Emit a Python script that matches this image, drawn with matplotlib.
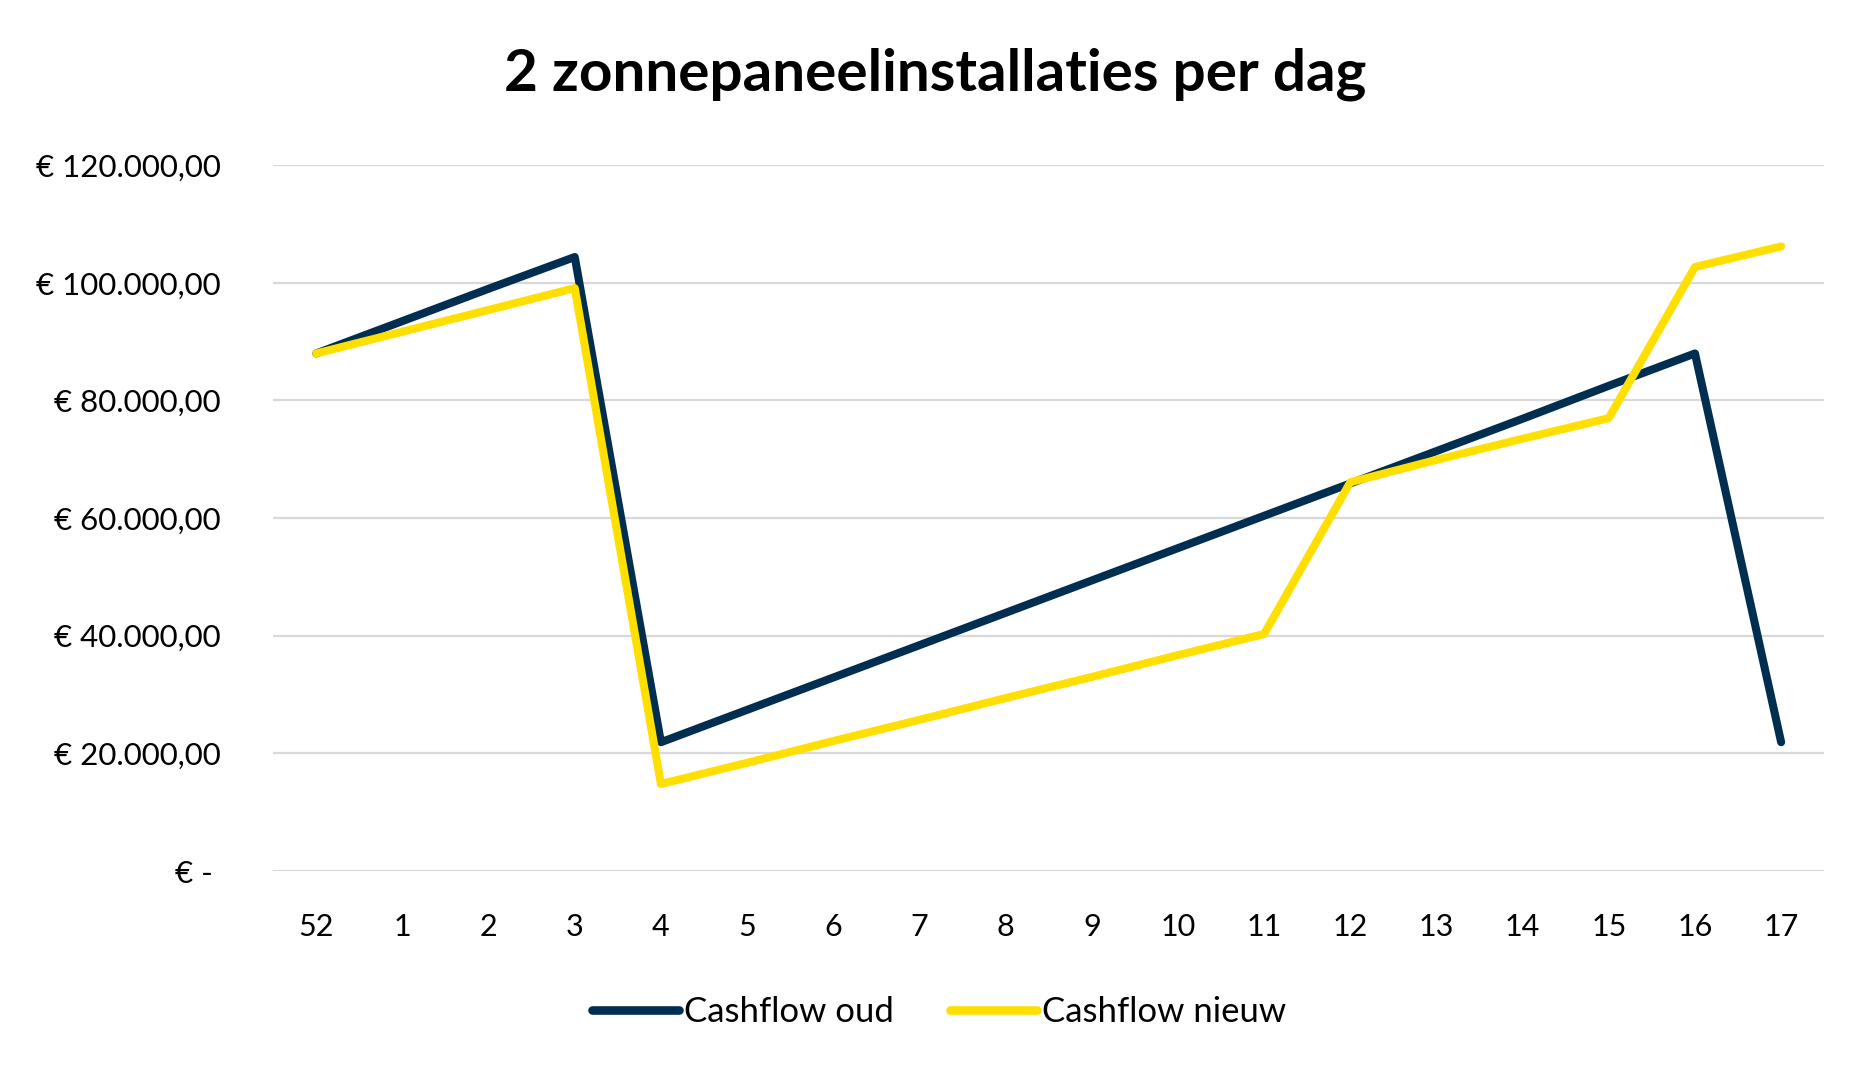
"""Cashflow comparison chart: 2 solar panel installations per day."""

import matplotlib

matplotlib.use("Agg")
import matplotlib.pyplot as plt
import numpy as np

# week numbers on the x axis
weeks = ["52", "1", "2", "3", "4", "5", "6", "7", "8", "9", "10", "11", "12", "13", "14", "15", "16", "17"]

# values (EUR)
cashflow_oud = [
    88000, 93500, 99000, 104400, 21900, 27400, 32900, 38400, 43900,
    49400, 54900, 60400, 65900, 71400, 76900, 82500, 88000, 21900,
]
cashflow_nieuw = [
    88000, 91700, 95400, 99100, 14800, 18400, 22100, 25700, 29400,
    33000, 36700, 40300, 66100, 69900, 73500, 77000, 102700, 106200,
]

y_ticks = [0, 20000, 40000, 60000, 80000, 100000, 120000]
y_tick_labels = ["€ - ", "€ 20.000,00", "€ 40.000,00", "€ 60.000,00",
                 "€ 80.000,00", "€ 100.000,00", "€ 120.000,00"]

NAVY = "#002e51"
YELLOW = "#ffdf00"
GRID = "#d9d9d9"
FONT = ["Lato", "DejaVu Sans"]


def main() -> None:
    plt.rcParams["font.family"] = FONT

    fig = plt.figure(figsize=(18.71, 10.80), dpi=100)
    fig.patch.set_facecolor("white")
    ax = fig.add_axes([0.146, 0.1935, 0.829, 0.6535])

    x = np.arange(len(weeks))
    ax.plot(x, cashflow_oud, color=NAVY, linewidth=5.8, solid_capstyle="round",
            label="Cashflow oud", zorder=3)
    ax.plot(x, cashflow_nieuw, color=YELLOW, linewidth=5.8, solid_capstyle="round",
            label="Cashflow nieuw", zorder=4)

    ax.set_xlim(-0.5, len(weeks) - 0.5)
    ax.set_ylim(0, 120000)
    ax.set_xticks(x)
    ax.set_xticklabels(weeks, fontsize=22, color="#000000")
    ax.set_yticks(y_ticks)
    ax.set_yticklabels(y_tick_labels, fontsize=22.5, color="#000000")
    ax.tick_params(axis="both", length=0)
    ax.tick_params(axis="y", pad=38)
    ax.tick_params(axis="x", pad=30)

    ax.grid(axis="y", color=GRID, linewidth=1.6)
    ax.set_axisbelow(True)
    for side in ["top", "right", "left", "bottom"]:
        ax.spines[side].set_visible(False)

    fig.text(0.5, 0.931, "2 zonnepaneelinstallaties per dag", ha="center", va="center",
             fontsize=42, fontweight="bold", color="#000000")

    leg = fig.legend(loc="center", bbox_to_anchor=(0.502, 0.063), ncol=2, frameon=False,
                     fontsize=25, handlelength=2.5, handletextpad=0.15, columnspacing=1.6)
    for line in leg.get_lines():
        line.set_solid_capstyle("round")
        line.set_linewidth(6.2)

    fig.savefig("out.png", dpi=100, facecolor=fig.get_facecolor())
    plt.close(fig)


if __name__ == "__main__":
    main()
